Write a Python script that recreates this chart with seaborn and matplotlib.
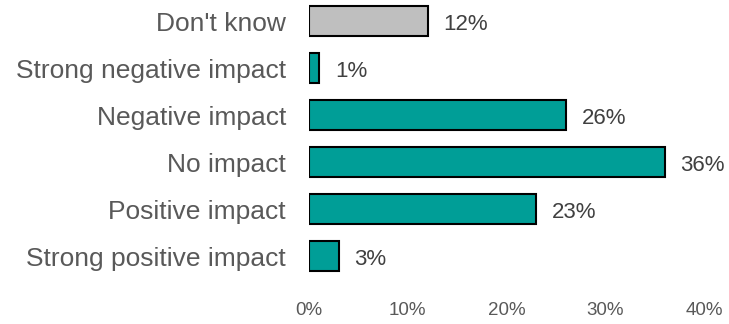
import matplotlib
matplotlib.use("Agg")
import matplotlib.pyplot as plt
import seaborn as sns
import pandas as pd

categories = ["Don't know", "Strong negative impact", "Negative impact",
              "No impact", "Positive impact", "Strong positive impact"]
values = [12, 1, 26, 36, 23, 3]
labels = ["12%", "1%", "26%", "36%", "23%", "3%"]
bar_colors = ["#BFBFBF", "#009E97", "#009E97", "#009E97", "#009E97", "#009E97"]
xticks = [0, 10, 20, 30, 40]
xtick_labels = ["0%", "10%", "20%", "30%", "40%"]

sns.set_theme(style="white")
plt.rcParams['font.family'] = ['Liberation Sans', 'DejaVu Sans']

df = pd.DataFrame({"category": categories, "value": values})

fig = plt.figure(figsize=(7.29, 3.24), dpi=100)
ax = fig.add_axes([309/729, 44/324, 395/729, 280/324])

sns.barplot(data=df, x="value", y="category", hue="category",
            palette=dict(zip(categories, bar_colors)), order=categories,
            hue_order=categories, legend=False, width=0.64, saturation=1,
            edgecolor="black", linewidth=1.5, ax=ax, orient="h")

for i, (v, lab) in enumerate(zip(values, labels)):
    ax.annotate(lab, xy=(v, i), xytext=(11.5, -2.5), textcoords="offset points",
                ha="left", va="center", fontsize=16, color="#404040")

ax.set_xlim(0, 40)
ax.set_ylim(5.51, -0.447)
ax.set_xticks(xticks)
ax.set_xticklabels(xtick_labels, fontsize=13.5, color="#595959")
ax.tick_params(axis="x", length=0, pad=16)
ax.tick_params(axis="y", length=0, pad=16.5, labelsize=19, labelcolor="#595959")
ax.set_xlabel("")
ax.set_ylabel("")
for s in ax.spines.values():
    s.set_visible(False)
ax.grid(False)

fig.savefig("out.png", dpi=100)
